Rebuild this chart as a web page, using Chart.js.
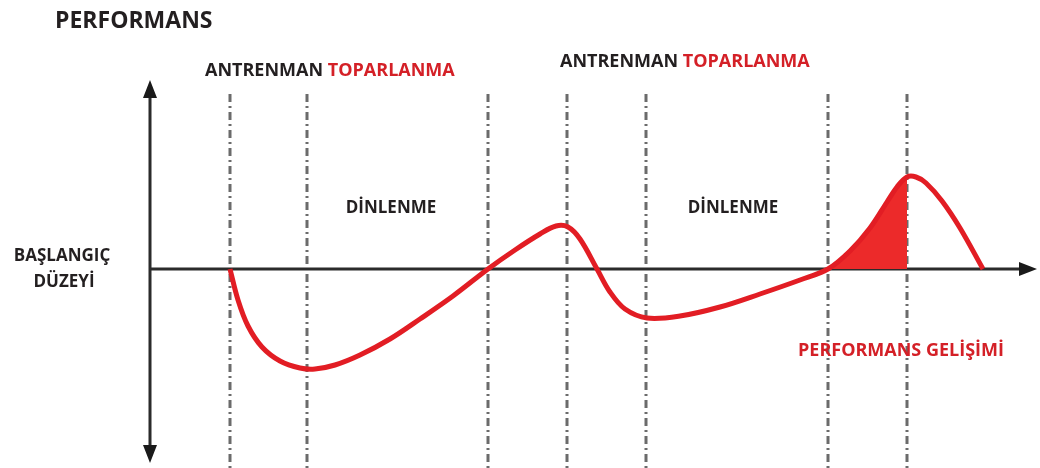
<!DOCTYPE html>
<html>
<head>
<meta charset="utf-8">
<script src="https://cdn.jsdelivr.net/npm/chart.js@4"></script>
<style>
  body { margin: 0; background: #fff; }
  #wrap { width: 1040px; height: 468px; }
</style>
</head>
<body>
<div id="wrap"><canvas id="chart" width="1040" height="468"></canvas></div>
<script>
// time axis (arbitrary units) and performance relative to the starting level
const timeValues = [8.0, 8.8, 9.8, 11.2, 13.0, 15.0, 16.5, 18.5, 21.0, 24.0, 27.0, 30.3, 33.8, 36.5, 39.0, 40.6, 41.8, 43.0, 44.7, 46.0, 47.5, 49.7, 53.0, 57.0, 61.0, 65.0, 67.8, 70.0, 72.0, 73.7, 74.7, 75.7, 76.6, 77.6, 79.2, 81.0, 83.3];
const perfValues = [0, -31, -57, -78, -92, -99, -100, -96, -86, -70, -50, -27, 0, 19, 35, 43, 42, 30, 0, -23, -40, -49, -47, -38, -25, -11, 0, 18, 41, 67, 82, 92, 92, 86, 68, 41, 0];

// dashed phase markers
const phaseMarks = [8.0, 15.7, 33.8, 41.7, 49.6, 67.8, 75.7];
// shaded gain between these two marks
const gainFrom = 67.8;
const gainTo = 75.7;

const RED = "#e21d24";
const FILL_RED = "#ec2a2a";
const TEXT_RED = "#d42027";
const TEXT_DARK = "#231f20";

const points = timeValues.map((t, i) => ({ x: t, y: perfValues[i] }));

const axesAndMarks = {
  id: "axesAndMarks",
  beforeDatasetsDraw(chart) {
    const { ctx, chartArea, scales } = chart;
    const x0 = scales.x.getPixelForValue(0);
    const y0 = scales.y.getPixelForValue(0);

    // phase markers
    ctx.save();
    ctx.strokeStyle = "#6b6b6b";
    ctx.lineWidth = 3;
    ctx.setLineDash([8, 4, 2, 4]);
    phaseMarks.forEach((t) => {
      const x = Math.round(scales.x.getPixelForValue(t));
      ctx.beginPath();
      ctx.moveTo(x, 94);
      ctx.lineTo(x, 468);
      ctx.stroke();
    });
    ctx.restore();

    // axes
    ctx.save();
    ctx.strokeStyle = "#2b2b2b";
    ctx.fillStyle = "#1a1a1a";
    ctx.lineWidth = 3;
    ctx.beginPath();
    ctx.moveTo(x0, chartArea.top + 10);
    ctx.lineTo(x0, chartArea.bottom - 10);
    ctx.moveTo(x0, y0);
    ctx.lineTo(chartArea.right - 10, y0);
    ctx.stroke();
    // arrow heads
    ctx.beginPath();
    ctx.moveTo(x0, chartArea.top);
    ctx.lineTo(x0 - 7, chartArea.top + 18);
    ctx.lineTo(x0 + 7, chartArea.top + 18);
    ctx.closePath();
    ctx.moveTo(x0, chartArea.bottom);
    ctx.lineTo(x0 - 7, chartArea.bottom - 18);
    ctx.lineTo(x0 + 7, chartArea.bottom - 18);
    ctx.closePath();
    ctx.moveTo(chartArea.right, y0);
    ctx.lineTo(chartArea.right - 18, y0 - 7);
    ctx.lineTo(chartArea.right - 18, y0 + 7);
    ctx.closePath();
    ctx.fill();
    ctx.restore();
  },
  afterDraw(chart) {
    const ctx = chart.ctx;
    ctx.save();
    ctx.textBaseline = "middle";

    ctx.font = "bold 23px 'Open Sans'";
    ctx.fillStyle = TEXT_DARK;
    ctx.textAlign = "left";
    ctx.fillText("PERFORMANS", 55, 21);

    // two-colour headings
    const twoTone = (x, y) => {
      ctx.font = "bold 18px 'Open Sans'";
      ctx.textAlign = "left";
      ctx.fillStyle = TEXT_DARK;
      const first = "ANTRENMAN ";
      ctx.fillText(first, x, y);
      ctx.fillStyle = TEXT_RED;
      ctx.fillText("TOPARLANMA", x + ctx.measureText(first).width, y);
    };
    twoTone(205, 71);
    twoTone(560, 62);

    ctx.font = "bold 17px 'Open Sans'";
    ctx.fillStyle = TEXT_DARK;
    ctx.textAlign = "center";
    ctx.fillText("DİNLENME", 391, 208);
    ctx.fillText("DİNLENME", 733, 208);

    ctx.font = "bold 17px 'Open Sans'";
    ctx.fillText("BAŞLANGIÇ", 62, 256);
    ctx.fillText("DÜZEYİ", 64, 282);

    ctx.font = "bold 18px 'Open Sans'";
    ctx.fillStyle = TEXT_RED;
    ctx.fillText("PERFORMANS GELİŞİMİ", 901, 351);
    ctx.restore();
  }
};

// only the segments inside the gain window get a fill colour
const inGain = (c) =>
  c.p0.parsed.x >= gainFrom - 0.01 && c.p1.parsed.x <= gainTo + 0.01;

new Chart(document.getElementById("chart"), {
  type: "line",
  data: {
    datasets: [
      {
        label: "Performans",
        data: points,
        borderColor: RED,
        borderWidth: 5,
        pointRadius: 0,
        tension: 0.35,
        fill: false,
        order: 1
      },
      {
        label: "Gelişim",
        data: points,
        borderWidth: 0,
        borderColor: "rgba(0,0,0,0)",
        backgroundColor: "rgba(0,0,0,0)",
        pointRadius: 0,
        tension: 0.35,
        fill: "origin",
        segment: {
          backgroundColor: (c) => (inGain(c) ? FILL_RED : "rgba(0,0,0,0)")
        },
        order: 2
      }
    ]
  },
  options: {
    responsive: false,
    animation: false,
    layout: { padding: { left: 150, right: 3, top: 80, bottom: 5 } },
    plugins: { legend: { display: false }, tooltip: { enabled: false } },
    scales: {
      x: { type: "linear", display: false, min: 0, max: 88.7 },
      y: { type: "linear", display: false, min: -194, max: 189 }
    }
  },
  plugins: [axesAndMarks]
});
</script>
</body>
</html>
